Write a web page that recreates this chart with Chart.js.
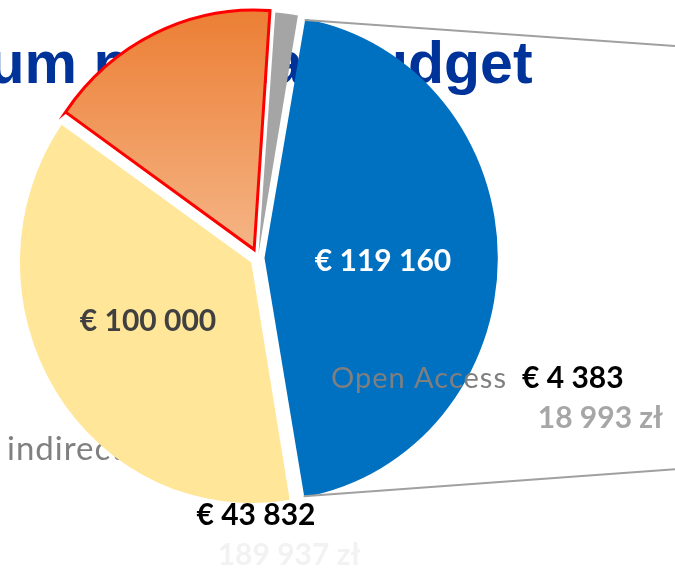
<!DOCTYPE html>
<html><head><meta charset="utf-8">
<script src="https://cdn.jsdelivr.net/npm/chart.js@4"></script>
<style>html,body{margin:0;padding:0;background:#fff;overflow:hidden}canvas{display:block}</style>
</head><body>
<canvas id="c" width="675" height="573"></canvas>
<script>
// ---- data ----
const categories = ['Open Access', 'Direct costs A', 'Direct costs B', 'indirect costs'];
const eurValues = [4383, 119160, 100000, 43832];
const plnValues = [18993, null, null, 189937];
const titleText = 'Maximum nominal budget';

// ---- styles ----
const sliceColors = ['#a5a5a5', '#0070c0', '#ffe699', null];
const sliceOffsets = [16, 26, 32, 36];
const K = 1.04; // vertical stretch of the pie (slide shape is slightly oval)

const fmt = n => String(n).replace(/\B(?=(\d{3})+(?!\d))/g, ' ');
const eur = n => '€ ' + fmt(n);
const pln = n => fmt(n) + ' zł';

function outerPoint(arc, angle) {
  const o = (arc.options.offset || 0) / 4;
  const half = (arc.startAngle + arc.endAngle) / 2;
  const fix = 1 - Math.sin(Math.min(Math.PI, arc.circumference));
  const r = arc.outerRadius + o * fix;
  const dx = Math.cos(half) * o + Math.cos(angle) * r;
  const dy = Math.sin(half) * o + Math.sin(angle) * r;
  return {x: arc.x + dx, y: arc.y + dy * K};
}

const backText = {
  id: 'backText',
  beforeDatasetsDraw(chart) {
    const ctx = chart.ctx;
    ctx.save();
    ctx.font = 'bold 59px "Liberation Sans", Arial, sans-serif';
    ctx.fillStyle = '#003399';
    ctx.textBaseline = 'alphabetic';
    const w = ctx.measureText('Maximum').width;
    ctx.fillText(titleText, 77 - w, 83);
    ctx.font = '33px Lato, sans-serif';
    ctx.letterSpacing = '1px';
    ctx.fillStyle = '#808080';
    ctx.fillText(categories[3], 7, 460);
    ctx.restore();
  }
};

const ellipse = {
  id: 'ellipse',
  beforeDatasetsDraw(chart) {
    const a = chart.getDatasetMeta(0).data[0];
    const ctx = chart.ctx;
    ctx.save();
    ctx.translate(a.x, a.y); ctx.scale(1, K); ctx.translate(-a.x, -a.y);
  },
  afterDatasetsDraw(chart) { chart.ctx.restore(); }
};

const frontText = {
  id: 'frontText',
  afterDatasetsDraw(chart) {
    const ctx = chart.ctx;
    const blue = chart.getDatasetMeta(0).data[1];
    const p1 = outerPoint(blue, blue.startAngle);
    const p2 = outerPoint(blue, blue.endAngle);
    const W = chart.width;
    ctx.save();
    ctx.strokeStyle = '#a0a0a0';
    ctx.lineWidth = 2;
    ctx.beginPath();
    ctx.moveTo(p1.x, p1.y + 1); ctx.lineTo(W, p1.y + 1 + 0.07 * (W - p1.x));
    ctx.moveTo(p2.x, p2.y - 1); ctx.lineTo(W, p2.y - 1 - 0.073 * (W - p2.x));
    ctx.stroke();

    ctx.textBaseline = 'alphabetic';
    const bold = 'bold 30px Lato, sans-serif';
    // in-slice labels
    ctx.font = bold; ctx.textAlign = 'center';
    ctx.fillStyle = '#ffffff'; ctx.fillText(eur(eurValues[1]), 383, 271);
    ctx.fillStyle = '#404040'; ctx.fillText(eur(eurValues[2]), 148, 331);
    // indirect costs values
    ctx.fillStyle = '#000000'; ctx.fillText(eur(eurValues[3]), 256, 525);
    ctx.fillStyle = '#f2f2f2'; ctx.fillText(pln(plnValues[3]), 289, 565);
    // open access
    ctx.textAlign = 'left';
    ctx.font = '29px Lato, sans-serif';
    ctx.letterSpacing = '1px';
    ctx.fillStyle = '#7f7f7f'; ctx.fillText(categories[0], 331, 388);
    ctx.letterSpacing = '0px';
    ctx.font = bold;
    ctx.fillStyle = '#000000'; ctx.fillText(eur(eurValues[0]), 522, 388);
    ctx.textAlign = 'right';
    ctx.fillStyle = '#a6a6a6'; ctx.fillText(pln(plnValues[0]), 663, 428);
    ctx.restore();
  }
};

function orangeGradient(c) {
  const chart = c.chart;
  const g = chart.ctx.createLinearGradient(0, 10, 0, 255);
  g.addColorStop(0, '#eb7a2e');
  g.addColorStop(1, '#f5b485');
  return g;
}

new Chart(document.getElementById('c'), {
  type: 'pie',
  data: {
    labels: categories,
    datasets: [{
      data: eurValues,
      backgroundColor: c => c.dataIndex === 3 ? orangeGradient(c) : sliceColors[c.dataIndex],
      borderColor: ['#ffffff', '#ffffff', '#ffffff', '#ff0000'],
      borderWidth: [0, 0, 0, 3],
      borderJoinStyle: 'miter',
      offset: sliceOffsets
    }]
  },
  options: {
    responsive: false,
    animation: false,
    rotation: 4,
    radius: 229,
    layout: {padding: {left: 0, right: 159, top: 0, bottom: 57}},
    plugins: {legend: {display: false}, tooltip: {enabled: false}, title: {display: false}}
  },
  plugins: [backText, ellipse, frontText]
});
</script>
</body></html>
